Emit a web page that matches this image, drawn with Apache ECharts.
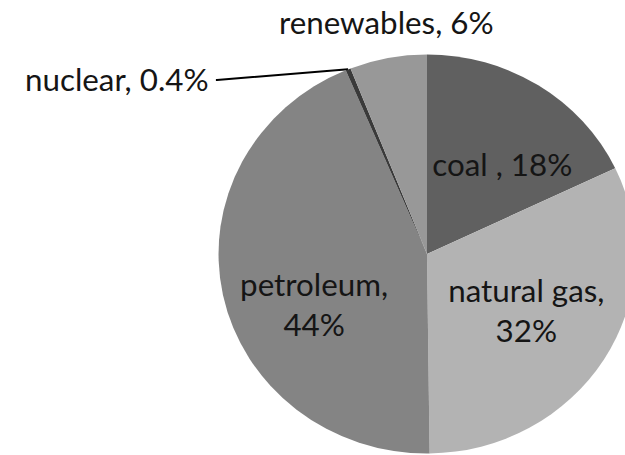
<!DOCTYPE html>
<html>
<head>
<meta charset="utf-8">
<script src="https://cdn.jsdelivr.net/npm/echarts@6/dist/echarts.min.js"></script>
<style>
html,body{margin:0;padding:0;background:#fff;overflow:hidden;width:625px;height:455px;}
#chart{width:625px;height:455px;transform:scaleX(1.045);transform-origin:427px 0;}
</style>
</head>
<body>
<div id="chart"></div>
<script>
// data
var categories = ['coal ', 'natural gas', 'petroleum', 'nuclear', 'renewables'];
var shares = [18, 32, 44, 0.4, 6];
var wrapAfterComma = [false, true, true, false, false];

// styling / layout (not data)
var sliceColors = ['#606060', '#b3b3b3', '#848484', '#3a3a3a', '#989898'];
var labelSpots = [
  {x: 499, y: 165, align: 'center'},
  {x: 522, y: 311, align: 'center'},
  {x: 319, y: 305, align: 'center'},
  {x: 225, y: 80, align: 'right'},
  {x: 388, y: 23, align: 'center'}
];

var seriesData = categories.map(function (c, i) {
  return {
    name: c,
    value: shares[i],
    itemStyle: {color: sliceColors[i]},
    label: i === 3 ? {position: 'outside', padding: [0, 7, 10, 0]} : {position: (i === 4) ? 'outside' : 'inside'},
    labelLine: {show: i === 3}
  };
});

var chart = echarts.init(document.getElementById('chart'), null, {renderer: 'svg'});
chart.setOption({
  animation: false,
  series: [{
    type: 'pie',
    center: [427, 254],
    radius: [0, 199.5],
    startAngle: 90,
    clockwise: true,
    avoidLabelOverlap: false,
    data: seriesData,
    label: {
      show: true,
      color: '#151515',
      fontFamily: 'Lato',
      fontSize: 30,
      lineHeight: 40,
      formatter: function (p) {
        var i = p.dataIndex;
        return p.name + ',' + (wrapAfterComma[i] ? '\n' : ' ') + shares[i] + '%';
      }
    },
    labelLine: {
      show: true,
      length: 1,
      length2: 1,
      minTurnAngle: 0,
      smooth: false,
      lineStyle: {color: '#000', width: 2}
    },
    labelLayout: function (params) {
      var s = labelSpots[params.dataIndex];
      return {x: s.x, y: s.y, align: s.align, verticalAlign: 'middle'};
    },
    emphasis: {disabled: true}
  }]
});
</script>
</body>
</html>
